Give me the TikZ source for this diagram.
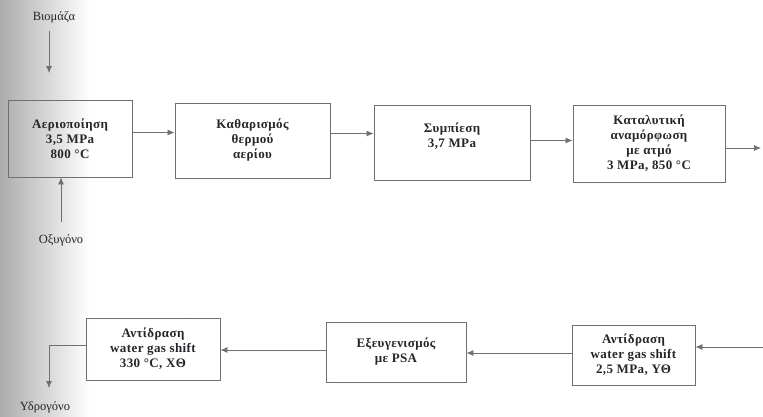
\documentclass[tikz,border=0pt]{standalone}
\usepackage{fontspec}
\setmainfont{Liberation Serif}
\usetikzlibrary{
    arrows.meta,
    positioning
}
\definecolor{ink}{RGB}{38,38,42}
\definecolor{edge}{RGB}{112,112,116}
\definecolor{scanshade}{RGB}{172,172,172}
\tikzset{
    line cap=round,
    line join=round,
    stage/.style={
        rectangle,
        draw=edge,
        line width=0.9pt,
        text=ink,
        align=center,
        inner sep=2pt,
        font=\bfseries\fontsize{13}{15}\selectfont\addfontfeatures{LetterSpace=3}
    },
    flow/.style={
        -{Latex[length=7pt,width=6pt]},
        draw=edge,
        line width=0.8pt
    },
    stream/.style={
        text=ink,
        inner sep=2pt,
        font=\fontsize{12.5}{14}\selectfont
    }
}

\begin{document}
\begin{tikzpicture}[x=1pt, y=-1pt]

\useasboundingbox (0,0) rectangle (763,416);
% shadow of the scanned page
\shade[left color=scanshade, right color=white] (0,0) rectangle (90,416);

% upper line
\node[stage, minimum width=124, minimum height=77] (gas) at (70,138.5)
    {Αεριοποίηση\\3,5 MPa\\800 °C};
\node[stage, minimum width=155, minimum height=75] (clean) at (252.5,140.5)
    {Καθαρισμός\\θερμού\\αερίου};
\node[stage, minimum width=156, minimum height=75] (compress) at (452,142.5)
    {Συμπίεση\\3,7 MPa\\~};
\node[stage, minimum width=152, minimum height=77] (reform) at (649,143.5)
    {Καταλυτική\\αναμόρφωση\\με ατμό\\3 MPa, 850 °C};

% lower line
\node[stage, minimum width=123, minimum height=60] (wgsht) at (633.5,355)
    {Αντίδραση\\water gas shift\\2,5 MPa, ΥΘ};
\node[stage, minimum width=140, minimum height=60] (psa) at (396,352)
    {Εξευγενισμός\\με PSA};
\node[stage, minimum width=134, minimum height=62] (wgslt) at (153,349)
    {Αντίδραση\\water gas shift\\330 °C, ΧΘ};

% streams in and out
\node[stream] (biomass) at (54,17) {Βιομάζα};
\node[stream] (oxygen) at (61,240) {Οξυγόνο};
\node[stream] (hydrogen) at (45,407) {Υδρογόνο};
\coordinate (feed) at (49,73);
\coordinate (upout) at (761,148);
\coordinate (lowin) at (763,347);
\coordinate (h2) at (49,388);

\draw[flow, shorten <=6pt] (biomass.south -| feed) -- (feed);
\draw[flow, shorten <=10pt] (oxygen.north) -- (oxygen.north |- gas.south);

\draw[flow] ([yshift=6]gas.east) coordinate (g1) -- (g1 -| clean.west);
\draw[flow] ([yshift=7]clean.east) coordinate (c1) -- (c1 -| compress.west);
\draw[flow] ([yshift=2]compress.east) coordinate (p1) -- (p1 -| reform.west);
\draw[flow] (reform.east |- upout) -- (upout);

\draw[flow] (lowin) -- (lowin -| wgsht.east);
\draw[flow] ([yshift=2]wgsht.west) coordinate (w1) -- (w1 -| psa.east);
\draw[flow] ([yshift=2]psa.west) coordinate (s1) -- (s1 -| wgslt.east);
\draw[flow] ([yshift=4]wgslt.west) -| (h2);

\end{tikzpicture}
\end{document}
